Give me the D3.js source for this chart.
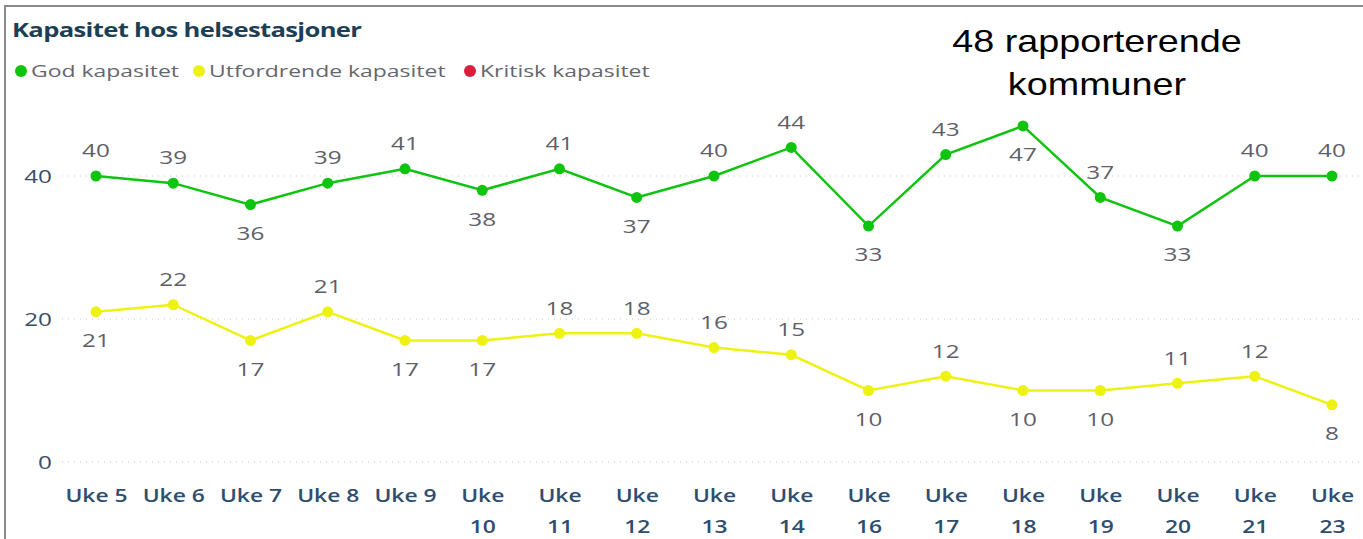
<!DOCTYPE html>
<html>
<head>
<meta charset="utf-8">
<script src="https://cdn.jsdelivr.net/npm/d3@7"></script>
<style>
  body { margin: 0; background: #fff; }
  svg text { font-family: "Open Sans", "Noto Sans", sans-serif; }
</style>
</head>
<body>
<div id="chart"></div>
<script>
// data
var weeks = ['Uke 5', 'Uke 6', 'Uke 7', 'Uke 8', 'Uke 9', 'Uke 10', 'Uke 11', 'Uke 12', 'Uke 13',
             'Uke 14', 'Uke 16', 'Uke 17', 'Uke 18', 'Uke 19', 'Uke 20', 'Uke 21', 'Uke 23'];
var godValues = [40, 39, 36, 39, 41, 38, 41, 37, 40, 44, 33, 43, 47, 37, 33, 40, 40];
var utfValues = [21, 22, 17, 21, 17, 17, 18, 18, 16, 15, 10, 12, 10, 10, 11, 12, 8];
// where Power BI put each data label (a = above, b = below)
var godLabelPos = ['a','a','b','a','a','b','a','b','a','a','b','a','b','a','b','a','a'];
var utfLabelPos = ['b','a','b','a','b','b','a','a','a','a','b','a','b','b','a','a','b'];
var yTicks = [0, 20, 40];
var legendNames = ['God kapasitet', 'Utfordrende kapasitet', 'Kritisk kapasitet'];
var legendColors = ['#0ec40e', '#eef212', '#dc1f3f'];

const W = 1363, H = 539;
// the screenshot is stretched sideways, so text gets a horizontal scale
const SX = 1.35;

var svg = d3.select('#chart')
            .append('svg')
            .attr('width', W)
            .attr('height', H);

// frame
svg.append('line').attr('x1', 4).attr('x2', W).attr('y1', 6).attr('y2', 6)
   .attr('stroke', '#8a8a8a').attr('stroke-width', 2);
svg.append('line').attr('x1', 5).attr('x2', 5).attr('y1', 6).attr('y2', H)
   .attr('stroke', '#8a8a8a').attr('stroke-width', 2);

var x = d3.scalePoint()
          .domain(weeks)
          .range([96, 1332]);

var y = d3.scaleLinear()
          .domain([0, 40])
          .range([462, 176]);

// gridlines
svg.append('g')
   .selectAll('line')
   .data(yTicks)
   .enter()
   .append('line')
   .attr('x1', 62)
   .attr('x2', W)
   .attr('y1', d => y(d))
   .attr('y2', d => y(d))
   .attr('stroke', '#c8c8c8')
   .attr('stroke-width', 1)
   .attr('stroke-dasharray', '1,5');

// y axis labels
var yAxis = d3.axisLeft(y).tickValues(yTicks).tickSize(0).tickPadding(0);
var yG = svg.append('g').attr('transform', 'translate(52,0)').call(yAxis);
yG.select('.domain').remove();
yG.selectAll('text')
  .style('font-size', '18px')
  .style('fill', '#3a4d66')
  .attr('dy', '0.35em')
  .attr('transform', `scale(${SX},1)`);

// x axis labels, two lines when it is a two-digit week
var xAxis = d3.axisBottom(x).tickSize(0).tickPadding(0);
var xG = svg.append('g').attr('transform', 'translate(0,489)').call(xAxis);
xG.select('.domain').remove();
xG.selectAll('text')
  .style('font-size', '18px')
  .style('font-weight', '600')
  .style('fill', '#2f4d6e')
  .attr('transform', 'scale(1.27,1)')
  .each(function(d) {
      var t = d3.select(this);
      var parts = d.split(' ');
      t.text(null);
      if (parts[1].length > 1) {
          t.append('tspan').attr('x', 0).attr('dy', '0.71em').text(parts[0]);
          t.append('tspan').attr('x', 0).attr('dy', '1.72em').text(parts[1]);
      } else {
          t.append('tspan').attr('x', 0).attr('dy', '0.71em').text(d);
      }
  })
  .attr('dy', null);

var line = d3.line()
             .x((d, i) => x(weeks[i]))
             .y(d => y(d));

function drawSeries(values, pos, color) {
    var g = svg.append('g');
    g.append('path')
     .datum(values)
     .attr('d', line)
     .attr('fill', 'none')
     .attr('stroke', color)
     .attr('stroke-width', 2.5);
    g.selectAll('circle')
     .data(values)
     .enter()
     .append('circle')
     .attr('cx', (d, i) => x(weeks[i]))
     .attr('cy', d => y(d))
     .attr('r', 5.5)
     .attr('fill', color);
    g.selectAll('text')
     .data(values)
     .enter()
     .append('text')
     .attr('transform', (d, i) => {
         var ly = pos[i] === 'a' ? y(d) - 25 : y(d) + 29;
         return `translate(${x(weeks[i])},${ly}) scale(${SX},1)`;
     })
     .attr('dy', '0.35em')
     .text(d => d)
     .style('text-anchor', 'middle')
     .style('font-size', '18px')
     .style('fill', '#5f5f6a');
}

drawSeries(godValues, godLabelPos, legendColors[0]);
drawSeries(utfValues, utfLabelPos, legendColors[1]);

// title
svg.append('text')
   .attr('transform', `translate(12,37) scale(${SX},1)`)
   .text('Kapasitet hos helsestasjoner')
   .style('font-size', '19px')
   .style('font-weight', '700')
   .style('letter-spacing', '-0.5px')
   .style('fill', '#1d3f55');

// legend
var legendX = [21, 199, 470];
var legend = svg.append('g')
                .selectAll('g')
                .data(legendNames)
                .enter()
                .append('g')
                .attr('transform', (d, i) => `translate(${legendX[i]}, 71)`);
legend.append('circle')
      .attr('r', 6)
      .attr('fill', (d, i) => legendColors[i]);
legend.append('text')
      .attr('transform', `translate(10,0) scale(${SX},1)`)
      .attr('dy', '0.35em')
      .text(d => d)
      .style('font-size', '17px')
      .style('fill', '#66666e');

// annotation
var note = svg.append('text')
              .attr('transform', 'translate(1097,0) scale(1.18,1)')
              .attr('text-anchor', 'middle')
              .style('font-family', '"Liberation Sans", Arial, sans-serif')
              .style('font-size', '32px')
              .style('fill', '#000');
note.append('tspan').attr('x', 0).attr('y', 52).text('48 rapporterende');
note.append('tspan').attr('x', 0).attr('y', 95).text('kommuner');
</script>
</body>
</html>
